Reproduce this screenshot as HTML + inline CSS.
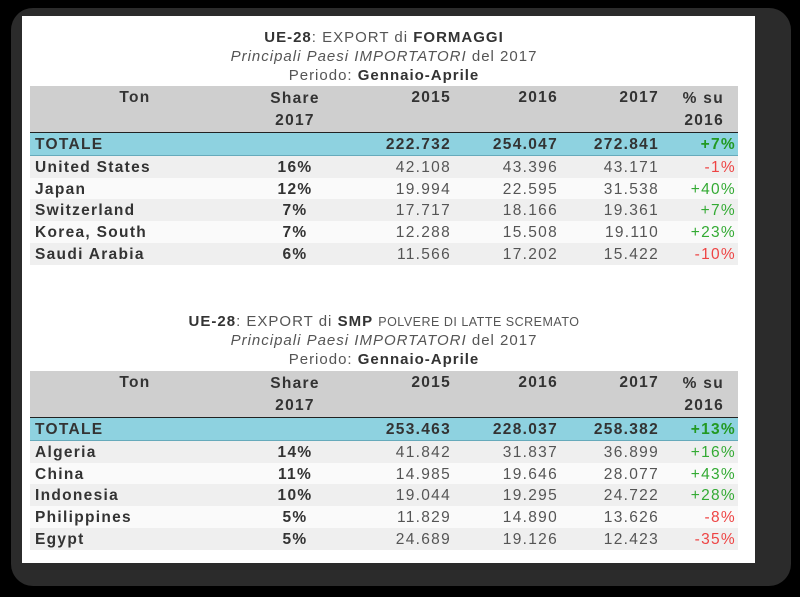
<!DOCTYPE html>
<html><head><meta charset="utf-8"><style>
body{margin:0;width:800px;height:597px;background:#000;position:relative;overflow:hidden;font-family:"Liberation Sans",sans-serif;}
#frame{position:absolute;left:11px;top:8px;width:780px;height:578px;background:#2b2b2b;border-radius:22px;}
#card{position:absolute;left:22px;top:16px;width:733px;height:547px;background:#fff;}
.t{position:absolute;left:0;width:768px;text-align:center;color:#555;font-size:15px;letter-spacing:1px;}
.t b{color:#333}
.row{position:absolute;left:30px;width:708px;height:22px;font-size:15.5px;letter-spacing:1.3px;color:#555;}
.row div{position:absolute;top:3px;}
.hdr{background:#cfcfcf;height:46px;border-bottom:2px solid #222;font-weight:bold;color:#333;}
.tot{background:#8ed2e0;font-weight:bold;color:#333;border-bottom:1px solid #6ab;}
.odd{background:#efefef}.even{background:#fafafa}
.n{font-weight:bold;color:#333;left:5px}
.s{left:225px;width:80px;text-align:center;font-weight:bold;color:#333}
.c1{right:287px}.c2{right:180px}.c3{right:79px}.c4{right:2px}
.g{color:#3a3}.r{color:#e44}.tot .g{color:#292}
</style></head><body>
<div id="frame"></div>
<div id="card"></div>
<div id="content"></div>
<script>
const tables=[
 {top:37,title:['<b>UE-28</b>: EXPORT di <b>FORMAGGI</b>','<i>Principali Paesi IMPORTATORI</i> del 2017','Periodo: <b>Gennaio-Aprile</b>'],hy:86,
  total:['','222.732','254.047','272.841','+7%'],
  rows:[['United States','16%','42.108','43.396','43.171','-1%'],['Japan','12%','19.994','22.595','31.538','+40%'],['Switzerland','7%','17.717','18.166','19.361','+7%'],['Korea, South','7%','12.288','15.508','19.110','+23%'],['Saudi Arabia','6%','11.566','17.202','15.422','-10%']]},
 {top:321,title:['<b>UE-28</b>: EXPORT di <b>SMP</b> <span style="font-size:12.5px;letter-spacing:0.5px">POLVERE DI LATTE SCREMATO</span>','<i>Principali Paesi IMPORTATORI</i> del 2017','Periodo: <b>Gennaio-Aprile</b>'],hy:371,
  total:['','253.463','228.037','258.382','+13%'],
  rows:[['Algeria','14%','41.842','31.837','36.899','+16%'],['China','11%','14.985','19.646','28.077','+43%'],['Indonesia','10%','19.044','19.295','24.722','+28%'],['Philippines','5%','11.829','14.890','13.626','-8%'],['Egypt','5%','24.689','19.126','12.423','-35%']]}
];
let h='';
tables.forEach((t,k)=>{
 t.title.forEach((s,i)=>{h+=`<div class="t" style="top:${t.top-8+i*19}px">${s}</div>`;});
 h+=`<div class="row hdr" style="top:${t.hy}px"><div style="left:60px;width:90px;text-align:center">Ton</div><div class="s" style="line-height:22px;top:2px">Share<br>2017</div><div class="c1">2015</div><div class="c2">2016</div><div class="c3">2017</div><div style="right:14px;line-height:22px;top:2px;text-align:right">% su<br>2016</div></div>`;
 let y=t.hy+47;
 h+=`<div class="row tot" style="top:${y}px"><div class="n">TOTALE</div><div class="c1">${t.total[1]}</div><div class="c2">${t.total[2]}</div><div class="c3">${t.total[3]}</div><div class="c4 g">${t.total[4]}</div></div>`;
 y+=23;
 t.rows.forEach((r,i)=>{
  const cls=r[5][0]=='-'?'r':'g';
  h+=`<div class="row ${i%2?'even':'odd'}" style="top:${y+i*21.7}px"><div class="n">${r[0]}</div><div class="s">${r[1]}</div><div class="c1">${r[2]}</div><div class="c2">${r[3]}</div><div class="c3">${r[4]}</div><div class="c4 ${cls}">${r[5]}</div></div>`;
 });
});
document.getElementById('content').innerHTML=h;
</script>
</body></html>
